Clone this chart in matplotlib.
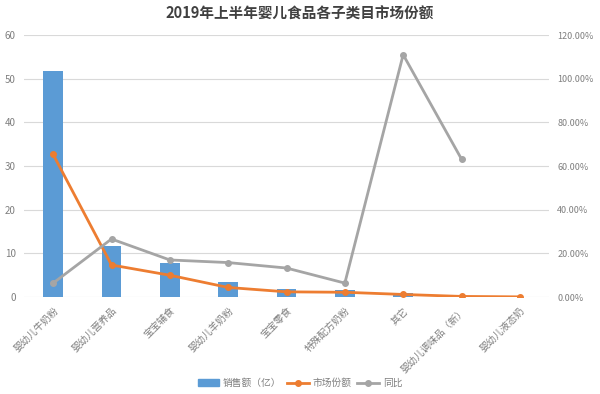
import matplotlib.pyplot as plt
from matplotlib.ticker import FuncFormatter
from matplotlib.patches import Patch
from matplotlib.lines import Line2D

plt.rcParams['font.family'] = ['Noto Sans CJK SC', 'DejaVu Sans']

categories = ['婴幼儿牛奶粉', '婴幼儿营养品', '宝宝辅食', '婴幼儿羊奶粉', '宝宝零食',
              '特殊配方奶粉', '其它', '婴幼儿调味品（新）', '婴幼儿液态奶']
sales = [51.8, 11.7, 7.8, 3.4, 1.8, 1.6, 0.9, 0.2, 0.1]          # 销售额（亿）
share = [65.3, 14.7, 10.0, 4.4, 2.4, 2.2, 1.2, 0.3, 0.1]          # 市场份额 %
yoy = [6.4, 26.6, 17.0, 15.8, 13.3, 6.4, 111.0, 63.2]             # 同比 %

blue = '#5B9BD5'
orange = '#ED7D31'
gray = '#A5A5A5'
text_gray = '#7F7F7F'
grid_gray = '#D9D9D9'

fig = plt.figure(figsize=(6, 3.94), dpi=100)
ax = fig.add_axes([0.04, 0.246, 0.875, 0.665])
ax2 = ax.twinx()

x = list(range(len(categories)))
ax.bar(x, sales, width=0.34, color=blue, zorder=2)
ax2.plot(x, share, color=orange, lw=2, marker='o', ms=4, zorder=3)
ax2.plot(x[:len(yoy)], yoy, color=gray, lw=2, marker='o', ms=4, zorder=3)

ax.set_xlim(-0.5, len(categories) - 0.5)
ax.set_ylim(0, 60)
ax.set_yticks(range(0, 61, 10))
ax2.set_ylim(0, 120)
ax2.set_yticks(range(0, 121, 20))
ax2.yaxis.set_major_formatter(FuncFormatter(lambda v, p: f'{v:.2f}%'))

ax.grid(axis='y', color=grid_gray, lw=0.8, zorder=0)
ax.set_axisbelow(True)
for a in (ax, ax2):
    for s in a.spines.values():
        s.set_visible(False)
    a.tick_params(length=0, labelsize=7, labelcolor=text_gray)
ax.tick_params(axis='y', pad=6)
ax2.tick_params(axis='y', pad=6, labelsize=6.5)

ax.set_xticks(x)
ax.set_xticklabels(categories, rotation=45, ha='right', va='top',
                   rotation_mode='anchor', fontsize=7, color=text_gray)
ax.tick_params(axis='x', pad=6)

fig.suptitle('2019年上半年婴儿食品各子类目市场份额', y=0.985, fontsize=10.5,
             fontweight='bold', color='#404040')

handles = [Patch(color=blue),
           Line2D([], [], color=orange, lw=2, marker='o', ms=4),
           Line2D([], [], color=gray, lw=2, marker='o', ms=4)]
fig.legend(handles, ['销售额（亿）', '市场份额', '同比'], loc='center',
           bbox_to_anchor=(0.5, 0.028), ncol=3, frameon=False, fontsize=7,
           labelcolor=text_gray, handlelength=2.2, handletextpad=0.4, columnspacing=0.6)

fig.savefig('out.png', dpi=100)
